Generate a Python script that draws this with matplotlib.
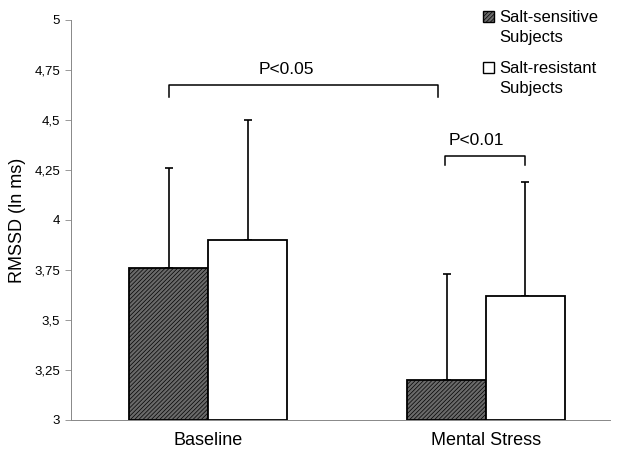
import matplotlib.pyplot as plt
import matplotlib.patches as mpatches
import numpy as np

plt.rcParams['font.family'] = ['Liberation Sans', 'DejaVu Sans']
plt.rcParams['hatch.linewidth'] = 0.5

groups = ["Baseline", "Mental Stress"]
sensitive = [3.76, 3.20]
sensitive_err = [0.50, 0.53]
resistant = [3.90, 3.62]
resistant_err = [0.60, 0.57]
yticks = [3, 3.25, 3.5, 3.75, 4, 4.25, 4.5, 4.75, 5]
ytick_labels = ["3", "3,25", "3,5", "3,75", "4", "4,25", "4,5", "4,75", "5"]

DARK = "#6a6a6a"
HATCH = "////////"

fig = plt.figure(figsize=(6.18, 4.54), dpi=100)
ax = fig.add_axes([0.115, 0.075, 0.872, 0.881])

x = np.arange(len(groups))
w = 0.284

ax.bar(x - w / 2, np.array(sensitive) - 3, w, bottom=3, color=DARK,
       edgecolor="black", linewidth=1.3, hatch=HATCH, zorder=2)
ax.bar(x + w / 2, np.array(resistant) - 3, w, bottom=3, color="white",
       edgecolor="black", linewidth=1.3, zorder=2)

ax.errorbar(x - w / 2, sensitive, yerr=[np.zeros(2), sensitive_err], fmt="none",
            ecolor="black", elinewidth=1.2, capsize=3, capthick=1.2, zorder=1)
ax.errorbar(x + w / 2, resistant, yerr=[np.zeros(2), resistant_err], fmt="none",
            ecolor="black", elinewidth=1.2, capsize=3, capthick=1.2, zorder=1)

# significance brackets
def bracket(x0, x1, y, h, label, tx):
    ax.plot([x0, x0, x1, x1], [y - h, y, y, y - h], color="black", lw=1.1,
            clip_on=False)
    ax.text(tx, y + 0.04, label, ha="center", va="bottom", fontsize=12.5)

bracket(x[0] - w / 2, x[1] - w / 2 - 0.03, 4.675, 0.06, "P<0.05", 0.28)
bracket(x[1] - w / 2 - 0.005, x[1] + w / 2, 4.32, 0.045, "P<0.01", 0.965)

ax.set_xlim(-0.493, 1.446)
ax.set_ylim(3, 5)
ax.set_yticks(yticks)
ax.set_yticklabels(ytick_labels, fontsize=9.5)
ax.set_xticks(x)
ax.set_xticklabels(groups, fontsize=13)
ax.tick_params(axis="x", length=0, pad=9)
ax.tick_params(axis="y", length=4, width=0.6, color="#888888", pad=4)
ax.set_ylabel("RMSSD (ln ms)", fontsize=13, labelpad=6)

for s in ["top", "right"]:
    ax.spines[s].set_visible(False)
for s in ["left", "bottom"]:
    ax.spines[s].set_color("#888888")
    ax.spines[s].set_linewidth(0.7)

# legend drawn by hand so the box sits on the first text line
leg = [("Salt-sensitive\nSubjects", DARK, HATCH, 0.964),
       ("Salt-resistant\nSubjects", "white", None, 0.852)]
for label, fc, hatch, yy in leg:
    fig.patches.append(mpatches.Rectangle((0.782, yy - 0.013), 0.018, 0.024,
                                          facecolor=fc, edgecolor="black",
                                          hatch=hatch, lw=1.0,
                                          transform=fig.transFigure))
    fig.text(0.808, yy + 0.014, label, fontsize=12, va="top", ha="left",
             linespacing=1.4)

fig.savefig("out.png", dpi=100)
